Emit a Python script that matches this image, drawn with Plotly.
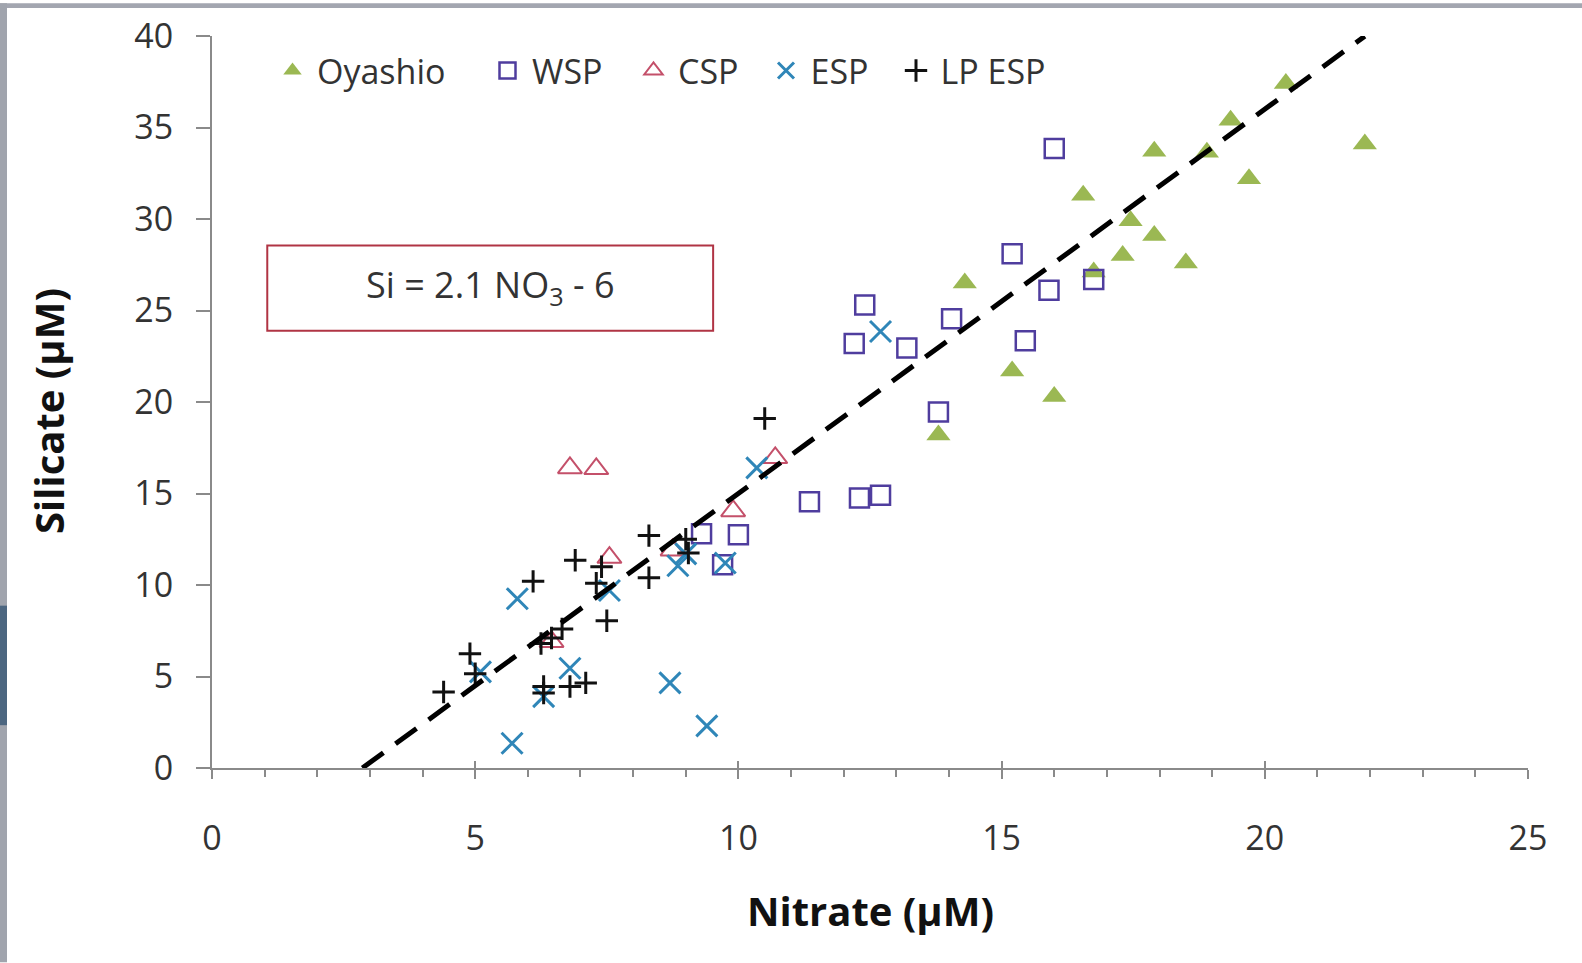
import plotly.graph_objects as go

# Nitrate (µM) and silicate (µM) by water mass
oyashio_no3 = [13.8, 14.3, 15.2, 16.0, 16.55, 16.75, 17.3, 17.45, 17.9, 17.9, 18.5, 18.9, 19.35, 19.7, 20.4, 21.9]
oyashio_si = [18.2, 26.5, 21.7, 20.3, 31.3, 27.1, 28.0, 29.9, 29.1, 33.7, 27.6, 33.65, 35.4, 32.2, 37.4, 34.1]

wsp_no3 = [9.3, 9.7, 10.0, 11.35, 12.3, 12.7, 12.2, 12.4, 13.2, 13.8, 14.05, 15.2, 15.45, 15.9, 16.0, 16.75]
wsp_si = [12.8, 11.1, 12.75, 14.55, 14.75, 14.9, 23.2, 25.3, 22.95, 19.45, 24.55, 28.1, 23.35, 26.1, 33.85, 26.7]

csp_no3 = [6.45, 6.8, 7.3, 7.55, 8.75, 9.9, 10.7]
csp_si = [6.9, 16.4, 16.35, 11.5, 11.9, 14.05, 16.95]

esp_no3 = [5.1, 5.7, 5.8, 6.3, 6.8, 7.55, 8.7, 8.85, 9.0, 9.4, 9.75, 10.35, 12.7]
esp_si = [5.25, 1.35, 9.25, 3.9, 5.45, 9.7, 4.65, 11.05, 11.7, 2.3, 11.2, 16.4, 23.85]

lp_esp_no3 = [4.4, 4.9, 5.0, 6.1, 6.25, 6.3, 6.3, 6.45, 6.65, 6.8, 6.9, 7.1, 7.3, 7.4, 7.5, 8.3, 8.3, 9.0, 9.05, 10.5]
lp_esp_si = [4.15, 6.25, 5.15, 10.2, 6.8, 4.45, 4.1, 7.1, 7.6, 4.45, 11.35, 4.65, 10.1, 11.0, 8.05, 12.7, 10.4, 12.5, 11.75, 19.1]

# Linear relation Si = 2.1 NO3 - 6
fit_slope = 2.1
fit_intercept = -6.0
fit_x_end = 21.9

x_range = [0, 25]
x_ticks = [0, 5, 10, 15, 20, 25]
y_ticks = [0, 5, 10, 15, 20, 25, 30, 35, 40]

FONT = "Open Sans"
TEXT = "#333333"
AXIS = "#8a8a8a"

# plot area in pixels
L, R, T, B = 212, 54, 33, 195
W, H = 1582, 963
PW, PH = W - L - R, H - T - B


def px_x(v):
    return (v - L) / PW


def px_y(v):
    return (T + PH - v) / PH


fig = go.Figure()

fig.add_trace(go.Scatter(
    x=oyashio_no3, y=oyashio_si, mode="markers", name="Oyashio", legend="legend",
    marker=dict(symbol="triangle-up", size=21, color="#9bb853", line=dict(width=0)),
))
fig.add_trace(go.Scatter(
    x=wsp_no3, y=wsp_si, mode="markers", name="WSP", legend="legend2",
    marker=dict(symbol="square-open", size=19, color="#4f3d9e", line=dict(width=2.5)),
))
fig.add_trace(go.Scatter(
    x=csp_no3, y=csp_si, mode="markers", name="CSP", legend="legend3",
    marker=dict(symbol="triangle-up-open", size=21, color="#c4506a", line=dict(width=2)),
))
fig.add_trace(go.Scatter(
    x=esp_no3, y=esp_si, mode="markers", name="ESP", legend="legend4",
    marker=dict(symbol="x-thin-open", size=21, color="#2f86b8", line=dict(width=3, color="#2f86b8")),
))
fig.add_trace(go.Scatter(
    x=lp_esp_no3, y=lp_esp_si, mode="markers", name="LP ESP", legend="legend5",
    marker=dict(symbol="cross-thin-open", size=16, color="#111111", line=dict(width=3, color="#111111")),
))

# fitted line, placed on the overlay x-axis (same range as the main one)
x0 = -fit_intercept / fit_slope
fit_x = [x0, fit_x_end]
fit_y = [fit_slope * v + fit_intercept for v in fit_x]
fig.add_trace(go.Scatter(
    x=fit_x, y=fit_y, xaxis="x2", yaxis="y", mode="lines", showlegend=False, hoverinfo="skip",
    line=dict(color="#000000", width=5, dash="26px,15px"),
))

# Equation box
fig.add_shape(type="rect", xref="x", yref="y", x0=1.05, x1=9.52, y0=23.9, y1=28.55,
              line=dict(color="#b03444", width=2), fillcolor="rgba(0,0,0,0)")
fig.add_annotation(x=5.28, y=26.3, xref="x", yref="y", showarrow=False,
                   text="Si = 2.1 NO<sub>3</sub> - 6",
                   font=dict(family=FONT, size=36, color=TEXT))

# Axis titles
fig.add_annotation(x=0.5, y=px_y(911), xref="paper", yref="paper", showarrow=False,
                   text="<b>Nitrate (µM)</b>", yanchor="middle",
                   font=dict(family=FONT, size=40, color="#111111"))
fig.add_annotation(x=px_x(48.5), y=px_y(410), xref="paper", yref="paper",
                   showarrow=False, text="<b>Silicate (µM)</b>", textangle=-90,
                   xanchor="center", yanchor="middle",
                   font=dict(family=FONT, size=40, color="#111111"))

# Slide frame along the top and left edges
fig.add_shape(type="rect", xref="paper", yref="paper", layer="below",
              x0=px_x(0), x1=px_x(W), y0=px_y(5), y1=px_y(0),
              line=dict(width=0), fillcolor="#a3a6b0")
fig.add_shape(type="rect", xref="paper", yref="paper", layer="below",
              x0=px_x(0), x1=px_x(7), y0=px_y(H), y1=px_y(0),
              line=dict(width=0), fillcolor="#a0a4ad")
fig.add_shape(type="rect", xref="paper", yref="paper", layer="below",
              x0=px_x(0), x1=px_x(7), y0=px_y(725), y1=px_y(605),
              line=dict(width=0), fillcolor="#4c6680")

# one legend per series so each entry sits at its own spot in the top row
legend_left_px = [268, 483, 629, 761.5, 891.5]
legend_common = dict(
    orientation="h", y=px_y(68), xanchor="left", yanchor="middle",
    bgcolor="rgba(0,0,0,0)", font=dict(family=FONT, size=34, color=TEXT),
    itemwidth=39,
)
legends = {}
for i, lx in enumerate(legend_left_px):
    key = "legend" if i == 0 else f"legend{i + 1}"
    legends[key] = dict(legend_common, x=px_x(lx))

fig.update_layout(
    width=W, height=H,
    margin=dict(l=L, r=R, t=T, b=B),
    paper_bgcolor="white", plot_bgcolor="white",
    font=dict(family=FONT, size=34, color=TEXT),
    showlegend=True,
    **legends,
    xaxis=dict(
        range=x_range, tickvals=x_ticks, ticktext=[str(v) for v in x_ticks],
        showgrid=False, zeroline=False, showline=True, linecolor=AXIS, linewidth=2,
        ticks="outside", ticklen=9, tickwidth=2, tickcolor=AXIS,
        ticklabelstandoff=30, tickfont=dict(family=FONT, size=34, color=TEXT),
        minor=dict(dtick=1, ticks="outside", ticklen=7, tickwidth=1.5, tickcolor=AXIS, showgrid=False),
    ),
    # same range again, carrying the upper half of the crossing major ticks
    xaxis2=dict(
        range=x_range, overlaying="x", anchor="y", side="bottom",
        tickmode="array", tickvals=x_ticks, ticktext=["" for _ in x_ticks],
        showticklabels=True, showgrid=False, zeroline=False, showline=False,
        ticks="inside", ticklen=7, tickwidth=2, tickcolor=AXIS,
    ),
    yaxis=dict(
        range=[0, 40], tickvals=y_ticks, ticktext=[str(v) for v in y_ticks],
        showgrid=False, zeroline=False, showline=True, linecolor=AXIS, linewidth=2,
        ticks="outside", ticklen=14, tickwidth=2, tickcolor=AXIS,
        ticklabelstandoff=16, tickfont=dict(family=FONT, size=34, color=TEXT),
    ),
)

fig.write_html("out.html")
